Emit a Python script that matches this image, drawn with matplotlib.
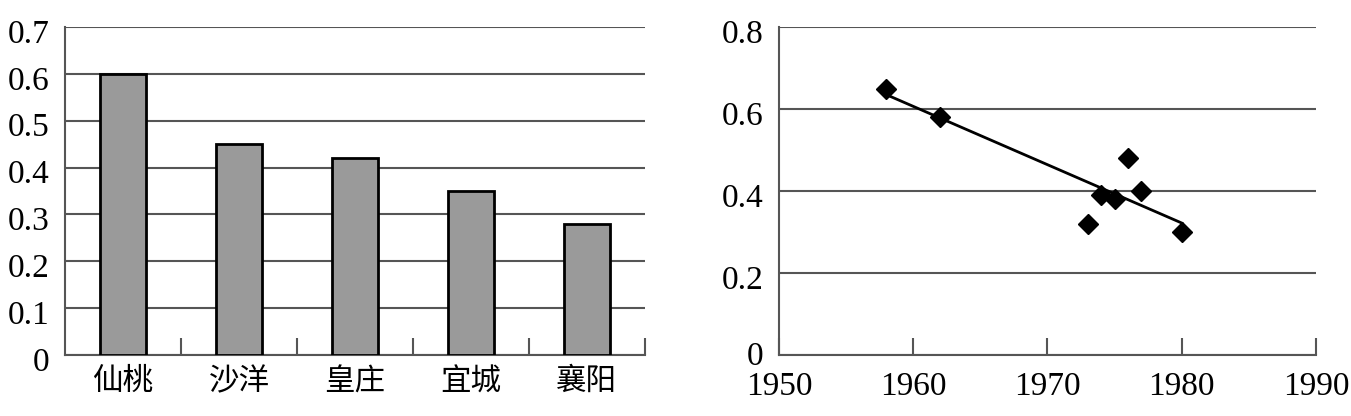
import numpy as np
import matplotlib.pyplot as plt
from matplotlib.transforms import offset_copy

# 左图：各站点数值
stations = ['仙桃', '沙洋', '皇庄', '宜城', '襄阳']
station_values = [0.60, 0.45, 0.42, 0.35, 0.28]

# 右图：年份-数值散点
years = [1958, 1962, 1973, 1974, 1975, 1976, 1977, 1980]
year_values = [0.65, 0.58, 0.32, 0.39, 0.38, 0.48, 0.40, 0.30]

plt.rcParams['font.family'] = ['Liberation Serif', 'Noto Sans CJK SC']
grid_col = '#555555'

fig = plt.figure(figsize=(13.51, 4.16), dpi=100)


def style_axes(ax, zero_shift=-4):
    for s in ['top', 'right']:
        ax.spines[s].set_visible(False)
    for s in ['left', 'bottom']:
        ax.spines[s].set_color(grid_col)
        ax.spines[s].set_linewidth(1.5)
    ax.yaxis.grid(True, color=grid_col, linewidth=1.5, zorder=0)
    ax.tick_params(axis='y', length=0, pad=11)
    # y 刻度文字略低于网格线
    for i, lab in enumerate(ax.get_yticklabels()):
        dy = zero_shift if i == 0 else -4
        lab.set_transform(offset_copy(lab.get_transform(), fig=fig,
                                      y=dy, units='dots'))


# ---- 左图 ----
ax1 = fig.add_axes([0.0481, 0.1466, 0.4293, 0.7885])
x = np.arange(len(stations))
ax1.bar(x, station_values, width=0.39, color='#9a9a9a', edgecolor='black',
        linewidth=2, zorder=3)
ax1.set_xlim(-0.5, len(stations) - 0.5)
ax1.set_ylim(0, 0.7)
ax1.set_yticks(np.arange(0, 0.71, 0.1))
ax1.set_yticklabels(['0'] + ['%.1f' % v for v in np.arange(0.1, 0.71, 0.1)],
                    fontsize=24)
ax1.set_xticks(x)
ax1.set_xticklabels(stations, family=['Noto Sans CJK SC'], fontsize=22)
ax1.tick_params(axis='x', length=0, pad=8)
ax1.set_xticks(list(x[1:] - 0.5) + [len(stations) - 0.5], minor=True)
ax1.tick_params(axis='x', which='minor', direction='in', length=12,
                width=1.5, color=grid_col)
style_axes(ax1)

# ---- 右图 ----
ax2 = fig.add_axes([0.5766, 0.1466, 0.3975, 0.7885])
coef = np.polyfit(years, year_values, 1)
fit_x = np.array([min(years), max(years)])
ax2.plot(fit_x, np.polyval(coef, fit_x), color='black', linewidth=2, zorder=3)
ax2.plot(years, year_values, linestyle='none', marker='D', markersize=10,
         color='black', zorder=4)
ax2.set_xlim(1950, 1990)
ax2.set_ylim(0, 0.8)
ax2.set_yticks(np.arange(0, 0.81, 0.2))
ax2.set_yticklabels(['0', '0.2', '0.4', '0.6', '0.8'], fontsize=24)
ax2.set_xticks([1950, 1960, 1970, 1980, 1990])
ax2.set_xticklabels(['1950', '1960', '1970', '1980', '1990'], fontsize=24)
ax2.tick_params(axis='x', direction='in', length=12, width=1.5,
                color=grid_col, pad=12)
style_axes(ax2, zero_shift=2)

fig.savefig('out.png', dpi=100)
